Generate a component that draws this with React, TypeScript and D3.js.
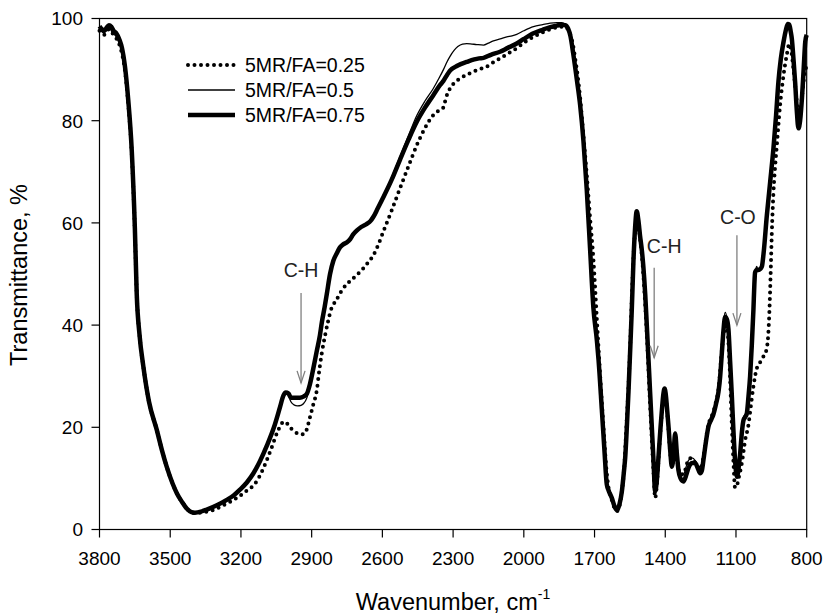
import React from "react";
import * as d3 from "d3";

type P = [number, number];

const xTicks = [3800, 3500, 3200, 2900, 2600, 2300, 2000, 1700, 1400, 1100, 800];
const yTicks = [0, 20, 40, 60, 80, 100];
const legendLabels = ["5MR/FA=0.25", "5MR/FA=0.5", "5MR/FA=0.75"];

const s075: P[] = [[3800,98.5],[3790,97.9],[3780,97.6],[3770,98.2],[3760,98.7],[3750,98.4],[3740,97.6],[3730,97.2],[3715,95.8],[3705,94.3],[3692,90.6],[3678,84],[3663,74],[3650,59],[3642,46],[3630,38],[3614,31.9],[3590,25],[3557,19.5],[3535,15.5],[3515,12.3],[3490,9],[3472,7.1],[3450,5.4],[3430,4.1],[3410,3.4],[3395,3.3],[3370,3.5],[3345,3.9],[3300,4.8],[3260,5.8],[3230,6.7],[3204,7.8],[3175,9.2],[3147,11],[3120,13.3],[3090,16.4],[3060,20],[3034,24],[3020,26.2],[3010,26.8],[2998,26.6],[2988,25.8],[2975,25.8],[2950,25.8],[2935,26],[2920,26.6],[2907,28.5],[2893,31.5],[2878,35],[2865,38],[2857,40.5],[2845,43.5],[2836,46],[2822,50],[2808,52.6],[2794,54],[2780,55.2],[2766,55.8],[2750,56.2],[2737,56.8],[2723,57.8],[2709,58.5],[2690,59.2],[2666,59.8],[2650,60.4],[2638,61.2],[2620,62.8],[2596,65],[2560,68.5],[2525,72.4],[2490,76.2],[2454,79.8],[2420,82.5],[2384,85],[2355,87],[2341,87.8],[2325,89],[2313,89.8],[2280,90.8],[2242,91.5],[2210,92],[2190,92.2],[2171,92.3],[2140,92.9],[2101,93.5],[2070,94.2],[2030,95.1],[2000,96],[1959,97.1],[1920,97.8],[1888,98.3],[1860,98.6],[1840,98.8],[1825,98.7],[1812,98],[1802,96.5],[1790,93],[1775,88],[1761,83],[1747,76],[1733,66.5],[1719,55],[1705,43.5],[1690,37],[1683,33.2],[1669,23.4],[1658,15.5],[1648,8.8],[1640,7.6],[1627,6.2],[1615,4.5],[1605,3.8],[1595,4.8],[1584,7.5],[1575,11.5],[1570,14],[1563,20],[1556,27],[1548,36],[1542,43],[1535,52.5],[1528,59],[1521,62.3],[1514,60.5],[1507,57.5],[1499,54.5],[1493,51.5],[1485,46],[1478,39.7],[1464,26.6],[1450,13.6],[1443,7.5],[1436,9.5],[1429,14],[1420,20],[1414,23.5],[1408,26.5],[1403,27.6],[1398,26.5],[1393,24],[1386,20],[1379,15.5],[1372,12.3],[1365,14.5],[1358,18.8],[1351,15],[1344,11.6],[1335,10],[1323,9.4],[1310,10.8],[1302,12],[1287,13],[1273,13],[1262,12],[1252,11],[1245,11.5],[1238,13.6],[1228,17],[1217,20.1],[1205,21.5],[1196,22.5],[1185,24.5],[1174,27],[1167,30],[1160,34.5],[1153,39],[1146,41.6],[1139,41.2],[1132,39.2],[1125,33],[1118,26.6],[1111,19.5],[1104,13.6],[1096,10.3],[1089,12],[1082,15],[1075,19],[1068,21.4],[1061,22],[1054,22.7],[1047,26],[1040,30],[1033,36],[1026,43],[1022,48],[1019,50.3],[1012,50.8],[1005,50.8],[997,51],[990,51.5],[983,54],[969,61.5],[955,68],[941,74.6],[930,81],[920,87.6],[910,92],[898,95.5],[888,97.8],[880,98.9],[874,98.8],[868,97.5],[863,96],[856,92],[849,87.5],[842,82],[835,78.5],[828,80],[820,84.5],[813,90],[806,95.5],[800,96.8]];

const s050: P[] = [[3800,98],[3790,97.4],[3780,97.2],[3770,97.8],[3760,98.2],[3750,97.6],[3740,97],[3730,96.5],[3715,95.2],[3705,93.8],[3692,90],[3678,83.5],[3663,73.6],[3650,58.8],[3642,46],[3630,38],[3614,31.9],[3590,25],[3557,19.5],[3535,15.5],[3515,12.3],[3490,9],[3472,7.1],[3450,5.4],[3430,4.1],[3410,3.4],[3395,3.3],[3370,3.5],[3345,3.9],[3300,4.8],[3260,5.8],[3230,6.7],[3204,7.8],[3175,9.2],[3147,11],[3120,13.3],[3090,16.4],[3060,20],[3034,24],[3020,26.2],[3010,26.8],[2998,26.2],[2988,25],[2975,24.4],[2960,24.2],[2945,24.3],[2935,24.6],[2920,25.8],[2907,28.3],[2893,31.5],[2878,35],[2865,38],[2857,40.5],[2845,43.5],[2836,46],[2822,50],[2808,52.6],[2794,54],[2780,55.2],[2766,55.8],[2750,56.2],[2737,56.8],[2723,57.8],[2709,58.5],[2690,59.2],[2666,59.8],[2650,60.4],[2638,61.2],[2620,62.8],[2596,65.2],[2560,69],[2525,73],[2490,77],[2454,81],[2420,83.8],[2384,86.3],[2360,88.3],[2341,90],[2325,91.6],[2313,92.6],[2295,93.8],[2280,94.5],[2260,95],[2242,95.1],[2220,95],[2200,94.9],[2171,94.8],[2150,95.2],[2129,95.6],[2100,96],[2072,96.4],[2050,96.6],[2030,96.9],[2000,97.6],[1959,98.4],[1920,98.8],[1888,99.1],[1860,99.2],[1840,99.2],[1825,98.9],[1812,98],[1802,96.5],[1790,93],[1775,88],[1761,83],[1747,76],[1733,66.5],[1719,55],[1705,43.5],[1690,37],[1683,33.2],[1669,23.4],[1658,15.5],[1648,9.5],[1640,8.2],[1627,6.6],[1615,4.8],[1605,4],[1595,5],[1584,7.5],[1575,11.5],[1570,14],[1563,20],[1556,27],[1548,36],[1542,43],[1535,51.5],[1528,57],[1521,59.5],[1514,58.5],[1507,56.5],[1499,54],[1493,51.5],[1485,46],[1478,39.7],[1464,26.6],[1450,13.6],[1443,7.8],[1436,9.5],[1429,14],[1420,20],[1414,23.5],[1408,26.5],[1403,27.4],[1398,26.5],[1393,24],[1386,20],[1379,15.5],[1372,12.5],[1365,14.5],[1358,18.5],[1351,15],[1344,12],[1335,10.8],[1323,10.8],[1310,12.5],[1302,13.5],[1287,14],[1273,13.5],[1262,12.5],[1252,11.8],[1245,12.2],[1238,14],[1228,17.5],[1217,20.5],[1205,22],[1196,23],[1185,25],[1174,27.5],[1167,31],[1160,36],[1153,40.5],[1146,42.5],[1139,41.5],[1132,38.5],[1125,32],[1118,25.5],[1111,18.5],[1104,13],[1096,10.8],[1089,12.5],[1082,15.5],[1075,19.5],[1068,22],[1061,22.5],[1054,23.5],[1047,26.5],[1040,30.5],[1033,36.5],[1026,43],[1022,48],[1019,50],[1012,51.5],[1005,50.5],[997,51],[990,51.5],[983,54],[969,61.5],[955,68],[941,74.6],[930,81],[920,87.6],[910,92],[898,95.5],[888,97.8],[880,98.9],[874,98.8],[868,97.5],[863,96],[856,92],[849,87.5],[842,82],[835,78.5],[828,80],[820,84.5],[813,90],[806,95.5],[800,96.5]];

const s025: P[] = [[3800,97.6],[3790,97.2],[3780,96.8],[3770,97.5],[3760,97.9],[3750,97.4],[3740,96.8],[3730,96.2],[3715,94.8],[3705,93.2],[3692,89.8],[3678,83.2],[3663,73.5],[3650,58.5],[3642,46],[3630,38],[3614,31.9],[3590,25],[3557,19.5],[3535,15.5],[3515,12.3],[3490,9],[3472,7.1],[3450,5.4],[3430,4.1],[3410,3.4],[3395,3.2],[3370,3.3],[3345,3.5],[3317,3.8],[3280,4.6],[3250,5.3],[3232,5.8],[3210,6.4],[3190,7.1],[3170,7.8],[3147,8.6],[3120,10.5],[3090,13.6],[3070,16],[3048,18.8],[3030,20.5],[3020,21.1],[3010,21],[3000,20.5],[2988,19.8],[2978,19.4],[2960,18.8],[2942,18.6],[2928,18.8],[2918,20],[2907,22],[2893,24.5],[2878,27.3],[2868,31],[2857,34.5],[2843,38],[2829,41],[2818,43],[2808,44],[2794,45],[2780,46.2],[2766,47.2],[2745,48.3],[2723,49.2],[2700,50.2],[2681,51.1],[2660,52.3],[2638,53.7],[2615,56],[2596,58.3],[2560,62.5],[2525,66.8],[2490,71],[2454,75.2],[2420,78.5],[2384,81.1],[2360,82],[2350,82.2],[2341,82.6],[2330,84.5],[2313,86.3],[2290,87.6],[2270,88.3],[2240,89],[2214,89.6],[2185,90.1],[2157,90.6],[2130,91.4],[2101,92.2],[2065,93.2],[2030,94.2],[1995,95.4],[1959,96.4],[1910,97.5],[1874,98.1],[1840,98.4],[1822,98.3],[1810,97.6],[1800,96.5],[1790,94.5],[1780,91.5],[1775,90],[1761,84.4],[1747,77],[1733,69.4],[1719,61],[1705,53],[1690,41],[1676,30],[1662,20],[1650,12],[1640,8],[1627,5.8],[1615,4.2],[1605,3.6],[1595,4.5],[1584,7.5],[1575,11.5],[1565,20],[1556,28],[1548,37],[1542,45],[1535,53],[1528,58.5],[1521,61.8],[1514,60],[1507,57],[1499,53.5],[1485,44],[1478,38],[1464,24],[1450,11.5],[1443,6.2],[1436,8.5],[1429,13.5],[1420,19.5],[1414,23],[1403,27],[1393,23.5],[1386,19.5],[1379,15],[1372,12.5],[1365,14.5],[1358,18],[1351,14.5],[1344,12],[1335,10.8],[1323,10.8],[1310,12.5],[1302,13.8],[1287,14],[1273,13],[1262,12.3],[1252,11.8],[1245,12.5],[1238,14.2],[1228,17.5],[1217,20.5],[1205,22],[1196,23],[1185,25],[1174,27.5],[1160,35],[1150,39],[1142,40],[1135,38.5],[1128,33],[1118,21],[1110,12.5],[1104,8.2],[1096,8.6],[1089,10],[1075,13],[1061,17.5],[1047,20.5],[1040,23],[1026,28],[1012,31.5],[1000,32.5],[990,33.5],[975,34.5],[965,37],[958,43],[953,50],[948,58],[941,66],[934,71],[927,75],[913,83],[898,89],[884,93],[874,95],[865,93.5],[856,90],[845,85],[835,81],[825,82.5],[815,87],[806,90],[800,90.5]];

const annotations = [
  { label: "C-H", wn: 2945, from: 46.3, to: 28.7, dx: 0, gap: 16 },
  { label: "C-H", wn: 1447, from: 51.2, to: 33.6, dx: 10, gap: 15 },
  { label: "C-O", wn: 1096, from: 57.6, to: 40, dx: 1, gap: 11 },
];

const W = 825;
const H = 616;
const L = 99.5, R = 806.7, T = 18.5, B = 529.5;
const FONT = "'Liberation Sans', Arial, Helvetica, sans-serif";

export default function App() {
  const x = d3.scaleLinear().domain([3800, 800]).range([L, R]);
  const y = d3.scaleLinear().domain([0, 100]).range([B, T]);
  const line = d3
    .line<P>()
    .x((d) => x(d[0]))
    .y((d) => y(d[1]))
    .curve(d3.curveMonotoneX);

  const legendY = [65, 90, 115];
  const styles = [
    { w: 4, dash: "0 6.5", cap: "round" as const },
    { w: 1.3, dash: undefined, cap: "butt" as const },
    { w: 4.5, dash: undefined, cap: "butt" as const },
  ];
  const data = [s025, s050, s075];

  return (
    <svg
      width={W}
      height={H}
      style={{ position: "absolute", left: 0, top: 0, background: "#fff" }}
      fontFamily={FONT}
    >
      <rect x={0} y={0} width={W} height={H} fill="#fff" />
      {data.map((s, i) => (
        <path
          key={i}
          d={line(s) || ""}
          fill="none"
          stroke="#000"
          strokeWidth={styles[i].w}
          strokeDasharray={styles[i].dash}
          strokeLinecap={styles[i].cap}
          strokeLinejoin="round"
        />
      ))}
      <rect x={L} y={T} width={R - L} height={B - T} fill="none" stroke="#000" strokeWidth={1.2} />
      {xTicks.map((t) => (
        <g key={t}>
          <line x1={x(t)} x2={x(t)} y1={B} y2={B + 8} stroke="#000" strokeWidth={1.2} />
          <text x={x(t)} y={565} textAnchor="middle" fontSize={19}>
            {t}
          </text>
        </g>
      ))}
      {yTicks.map((t) => (
        <g key={t}>
          <line x1={L - 8} x2={L} y1={y(t)} y2={y(t)} stroke="#000" strokeWidth={1.2} />
          <text x={83} y={y(t) + 6.8} textAnchor="end" fontSize={19}>
            {t}
          </text>
        </g>
      ))}
      <text x={453} y={610} textAnchor="middle" fontSize={23.5}>
        Wavenumber, cm
        <tspan dy={-11} fontSize={14}>-1</tspan>
      </text>
      <text transform="translate(27,275) rotate(-90)" textAnchor="middle" fontSize={23.5}>
        Transmittance, %
      </text>
      {legendLabels.map((lab, i) => (
        <g key={lab}>
          <line
            x1={188}
            x2={235}
            y1={legendY[i]}
            y2={legendY[i]}
            stroke="#000"
            strokeWidth={styles[i].w}
            strokeDasharray={styles[i].dash}
            strokeLinecap={styles[i].cap}
          />
          <text x={245} y={legendY[i] + 7} fontSize={19.5}>
            {lab}
          </text>
        </g>
      ))}
      {annotations.map((a, i) => {
        const ax = x(a.wn);
        const y1 = y(a.from);
        const y2 = y(a.to);
        return (
          <g key={i}>
            <text x={ax + a.dx} y={y1 - a.gap} textAnchor="middle" fontSize={19.5} fill="#222">
              {a.label}
            </text>
            <line x1={ax} x2={ax} y1={y1} y2={y2} stroke="#808080" strokeWidth={1.3} />
            <polyline
              points={`${ax - 4},${y2 - 12} ${ax},${y2} ${ax + 4},${y2 - 12}`}
              fill="none"
              stroke="#808080"
              strokeWidth={1.3}
            />
          </g>
        );
      })}
    </svg>
  );
}
